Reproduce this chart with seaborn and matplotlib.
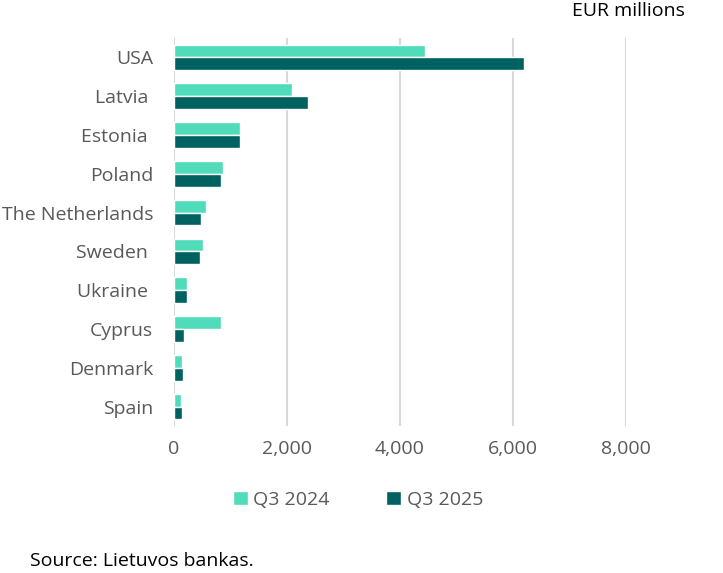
import matplotlib
matplotlib.use("Agg")
import matplotlib.pyplot as plt
import pandas as pd
import seaborn as sns

countries = ["USA", "Latvia ", "Estonia ", "Poland", "The Netherlands", "Sweden ",
             "Ukraine ", "Cyprus", "Denmark", "Spain"]
q3_2024 = [4446, 2081, 1167, 873, 566, 517, 229, 836, 142, 124]
q3_2025 = [6195, 2376, 1167, 830, 480, 462, 229, 174, 155, 142]
periods = ["Q3 2024", "Q3 2025"]
x_ticks = [0, 2000, 4000, 6000, 8000]

colors = ["#50DBBA", "#006161"]
text_grey = "#595959"

df = pd.DataFrame({
    "country": countries * 2,
    "period": [periods[0]] * len(countries) + [periods[1]] * len(countries),
    "value": q3_2024 + q3_2025,
})

sns.set_theme(style="white")
plt.rcParams["font.family"] = ["Open Sans", "DejaVu Sans"]

fig = plt.figure(figsize=(7.23, 5.73), dpi=100)
ax = fig.add_axes([174 / 723, 1 - 426 / 573, (626 - 174) / 723, (426 - 38) / 573])

sns.barplot(data=df, x="value", y="country", hue="period", orient="h",
            palette=colors, width=0.66, gap=0, saturation=1, ax=ax)

ax.set_xlim(0, 8000)
ax.set_xticks(x_ticks)
ax.set_xticklabels([f"{t:,}" for t in x_ticks], fontsize=14, color=text_grey)
ax.tick_params(axis="y", labelsize=14, labelcolor=text_grey, length=0, pad=15)
ax.tick_params(axis="x", length=0, pad=10)
ax.set_xlabel("")
ax.set_ylabel("")
ax.grid(axis="x", color="#D9D9D9", linewidth=1.5)
ax.set_axisbelow(True)
for s in ax.spines.values():
    s.set_visible(False)

handles, labels = ax.get_legend_handles_labels()
ax.legend_.remove()
fig.legend(handles, labels, loc="center", bbox_to_anchor=(358 / 723, 1 - 500 / 573),
           ncol=2, frameon=False, fontsize=14, labelcolor=text_grey,
           handlelength=0.75, handleheight=0.75, handletextpad=0.3, columnspacing=2.9)

fig.text(685 / 723, 1 - 11 / 573, "EUR millions", ha="right", va="center",
         fontsize=14, color="black")
fig.text(30 / 723, 1 - 561 / 573, "Source: Lietuvos bankas.", ha="left", va="center",
         fontsize=14, color="black")

fig.savefig("out.png", dpi=100)
